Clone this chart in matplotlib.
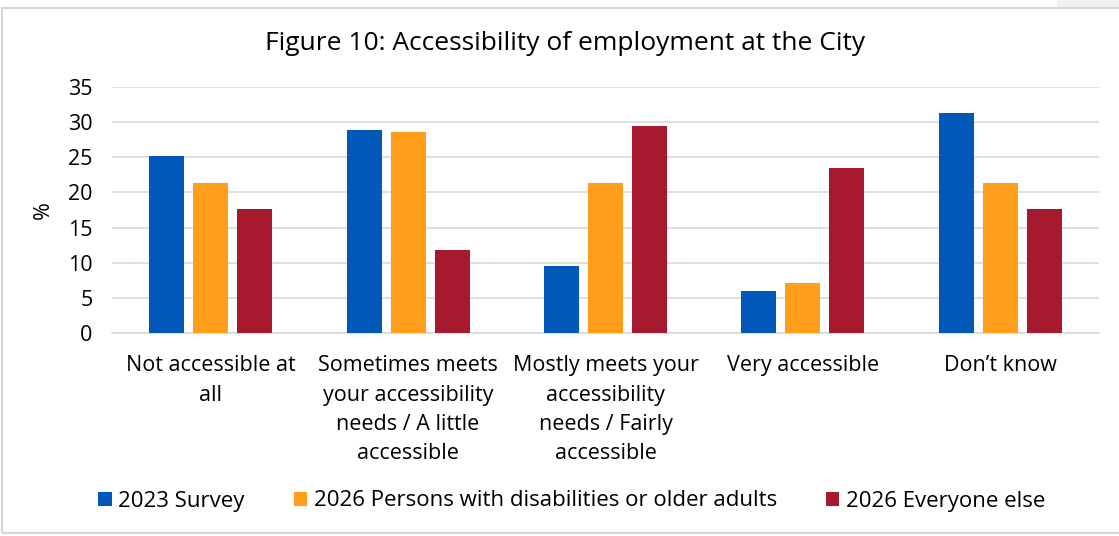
import matplotlib.pyplot as plt
import numpy as np
from matplotlib.patches import Rectangle

plt.rcParams['font.family'] = ['Open Sans', 'DejaVu Sans']

categories = ['Not accessible at\nall',
              'Sometimes meets\nyour accessibility\nneeds / A little\naccessible',
              'Mostly meets your\naccessibility\nneeds / Fairly\naccessible',
              'Very accessible',
              'Don\u2019t know']
survey_2023 = [25.2, 28.9, 9.6, 6.0, 31.3]
disab_2026 = [21.4, 28.6, 21.4, 7.1, 21.4]
else_2026 = [17.7, 11.8, 29.5, 23.5, 17.7]

series = [('2023 Survey', survey_2023, '#0058b8'),
          ('2026 Persons with disabilities or older adults', disab_2026, '#ff9e1b'),
          ('2026 Everyone else', else_2026, '#a6192e')]

fig = plt.figure(figsize=(11.19, 5.36), dpi=100)
ax = fig.add_axes([112 / 1119, 1 - 333 / 536, 987 / 1119, 246 / 536])

x = np.arange(len(categories))
w = 0.177
step = 0.223
for i, (name, vals, col) in enumerate(series):
    ax.bar(x + (i - 1) * step, vals, w, color=col, label=name, zorder=3)

ax.set_xlim(-0.5, len(categories) - 0.5)
ax.set_ylim(0, 35)
ax.set_yticks(range(0, 36, 5))
ax.yaxis.grid(True, color='#d9d9d9', linewidth=1.2, zorder=0)
ax.set_xticks(x)
ax.set_xticklabels(categories, fontsize=15.5, linespacing=1.52)
ax.tick_params(axis='both', length=0, labelsize=15.5, colors='black')
ax.tick_params(axis='x', pad=16)
ax.tick_params(axis='y', pad=14)
for s in ['top', 'right', 'left']:
    ax.spines[s].set_visible(False)
ax.spines['bottom'].set_color('#d9d9d9')
ax.spines['bottom'].set_linewidth(1.2)
ax.set_ylabel('%', fontsize=15.5, labelpad=10)

fig.text(0.505, 1 - 43 / 536, 'Figure 10: Accessibility of employment at the City',
         ha='center', va='center', fontsize=19)

leg = fig.legend(loc='center', bbox_to_anchor=(0.511, 1 - 501 / 536), ncol=3, frameon=False,
                 fontsize=16, handlelength=0.6, handleheight=0.6,
                 handletextpad=0.3, columnspacing=2.2)

# frame of the chart area
fig.patches.append(Rectangle((2 / 1119, 3 / 536), 1.2, 1 - 11 / 536, transform=fig.transFigure,
                             fill=False, edgecolor='#d6d6d6', linewidth=1.5))
fig.patches.append(Rectangle((1057 / 1119, 1 - 7 / 536), 62 / 1119, 7 / 536, transform=fig.transFigure,
                             facecolor='#f0f0f0', edgecolor='none'))

fig.savefig('out.png', dpi=100)
